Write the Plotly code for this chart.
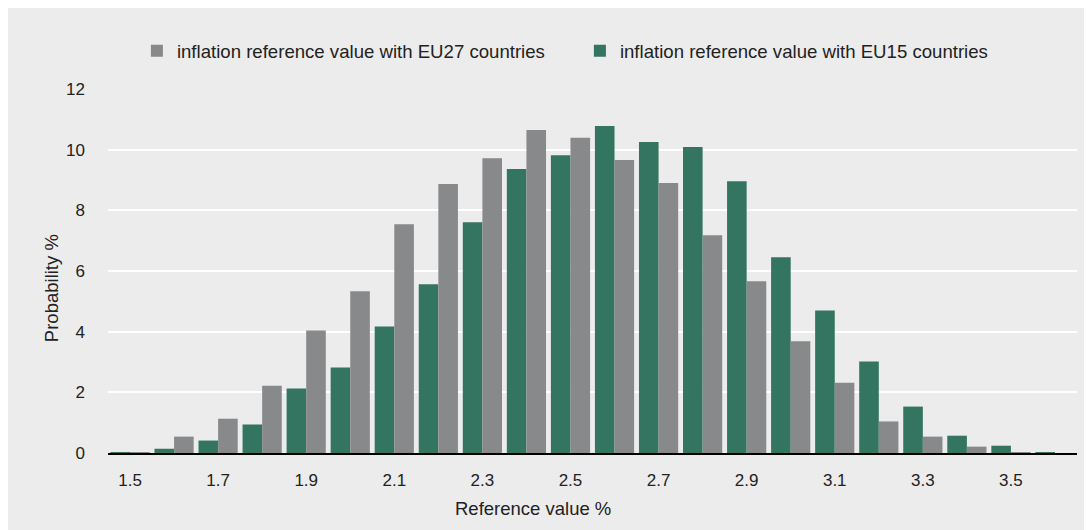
# Import dependencies
import plotly.graph_objects as go

# Reference value bins (x categories) and probabilities
ref_values = ['1.5', '1.6', '1.7', '1.8', '1.9', '2.0', '2.1', '2.2', '2.3', '2.4', '2.5',
              '2.6', '2.7', '2.8', '2.9', '3.0', '3.1', '3.2', '3.3', '3.4', '3.5', '3.6']
tick_labels = ['1.5', '1.7', '1.9', '2.1', '2.3', '2.5', '2.7', '2.9', '3.1', '3.3', '3.5']

eu27_prob = [0.03, 0.54, 1.13, 2.22, 4.04, 5.33, 7.54, 8.87, 9.72, 10.65, 10.39,
             9.66, 8.90, 7.18, 5.66, 3.68, 2.32, 1.04, 0.54, 0.21, 0.02, 0.0]
eu15_prob = [0.02, 0.14, 0.41, 0.94, 2.13, 2.82, 4.17, 5.56, 7.61, 9.36, 9.82,
             10.78, 10.25, 10.09, 8.96, 6.45, 4.70, 3.02, 1.53, 0.57, 0.24, 0.03]

GREY = '#88898b'
GREEN = '#337560'
BG = '#ececec'
FONT = 'Liberation Sans, Arial, Helvetica, sans-serif'

fig = go.Figure()

# Green (EU15) goes first so it sits on the left of each pair
fig.add_trace(go.Bar(x = ref_values,
                     y = eu15_prob,
                     name = 'inflation reference value with EU15 countries',
                     marker_color = GREEN,
                     marker_line_width = 0))

fig.add_trace(go.Bar(x = ref_values,
                     y = eu27_prob,
                     name = 'inflation reference value with EU27 countries',
                     marker_color = GREY,
                     marker_line_width = 0))

fig.update_layout(width = 1092,
                  height = 530,
                  barmode = 'group',
                  bargap = 0.11,
                  bargroupgap = 0,
                  paper_bgcolor = BG,
                  plot_bgcolor = BG,
                  margin = dict(l = 100, r = 23, t = 81, b = 85),
                  font = dict(family = FONT, size = 17, color = '#222222'),
                  showlegend = True,
                  legend = dict(orientation = 'h',
                                traceorder = 'reversed',
                                x = 0.487, xanchor = 'center',
                                y = 1.104, yanchor = 'middle',
                                entrywidth = 398,
                                bgcolor = 'rgba(0,0,0,0)',
                                font = dict(size = 18.6)))

# Axis titles as annotations - the original has them off-centre
fig.add_annotation(text = 'Reference value %', xref = 'paper', yref = 'paper',
                   x = 0.4386, y = -0.1525, xanchor = 'center', yanchor = 'middle',
                   showarrow = False, font = dict(size = 18.5))
fig.add_annotation(text = 'Probability %', xref = 'paper', yref = 'paper',
                   x = -0.0588, y = 0.453, xanchor = 'center', yanchor = 'middle',
                   textangle = -90, showarrow = False, font = dict(size = 18.5))

fig.update_xaxes(type = 'category',
                 tickmode = 'array',
                 tickvals = tick_labels,
                 ticktext = tick_labels,
                 range = [-0.5, 21.5],
                 showgrid = False,
                 showline = True,
                 linecolor = 'black',
                 linewidth = 2,
                 ticks = '',
                 ticklabelstandoff = 11)

fig.update_yaxes(range = [0, 12],
                 dtick = 2,
                 showgrid = True,
                 gridcolor = 'white',
                 gridwidth = 2,
                 zeroline = False,
                 showline = False,
                 ticks = '',
                 ticklabelstandoff = 22)

fig.write_html('out.html')
